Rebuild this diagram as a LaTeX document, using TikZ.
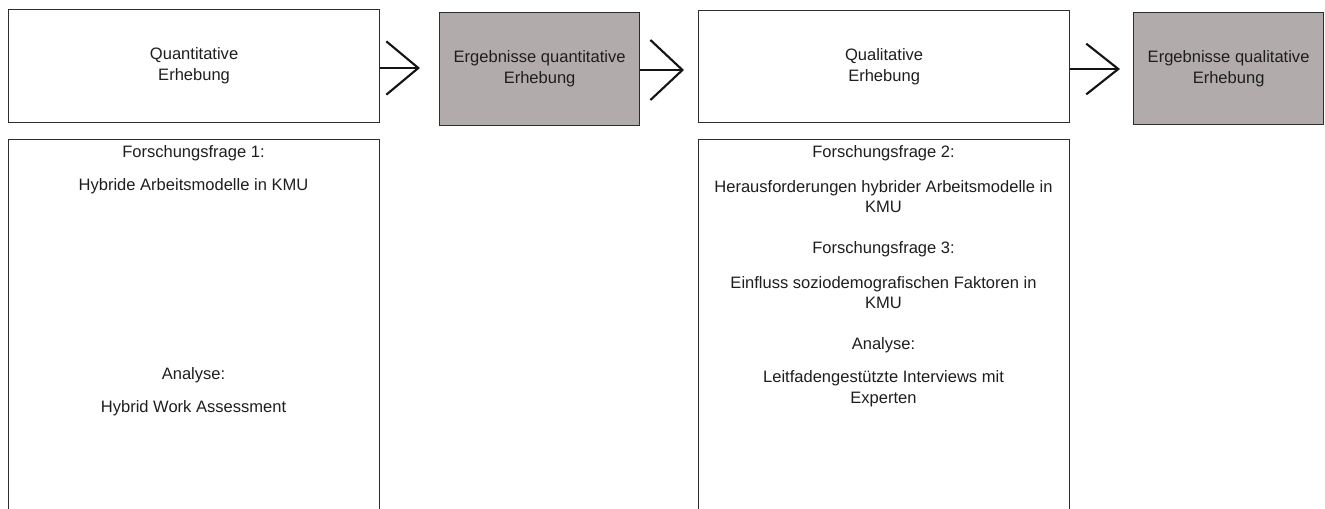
\documentclass[tikz,border=0pt]{standalone}
\usepackage{fontspec}
\setmainfont{Liberation Sans}
\usetikzlibrary{arrows.meta}
\definecolor{boxgray}{RGB}{177,172,171}
\definecolor{edgecol}{RGB}{45,45,45}
\definecolor{txtcol}{RGB}{30,30,30}
\begin{document}
\begin{tikzpicture}[x=0.75pt,y=-0.75pt,
  box/.style={draw=edgecol,line width=0.9pt,inner sep=0pt,anchor=north west,
    font=\fontsize{12.4}{15.6}\selectfont,align=center,text=txtcol},
  grey/.style={box,fill=boxgray},
  lbl/.style={font=\fontsize{12.4}{15.6}\selectfont,align=center,text=txtcol,inner sep=0pt},
  flow/.style={line width=1.6pt,draw=black!92}]
\useasboundingbox (0,0) rectangle (1325,508);
% top row
\node[box,minimum width=278.25pt,minimum height=84.75pt] (q) at (8,9) {Quantitative\\Erhebung};
\node[grey,minimum width=150pt,minimum height=84.75pt] (rq) at (439,12) {Ergebnisse quantitative\\Erhebung};
\node[box,minimum width=278.25pt,minimum height=84pt] (ql) at (698,10) {Qualitative\\Erhebung};
\node[grey,minimum width=142.5pt,minimum height=84pt] (rl) at (1133,12) {Ergebnisse qualitative\\Erhebung};
% bottom boxes
\node[box,minimum width=278.25pt,minimum height=285.75pt] (dq) at (8,139) {};
\node[box,minimum width=278.25pt,minimum height=285.75pt] (dl) at (698,139) {};
% arrow tips
\coordinate (t1) at (420,68);
\coordinate (t2) at (684,70);
\coordinate (t3) at (1120,69);
\draw[flow,-{Straight Barb[length=24pt,width=40pt,line width=1.6pt]}] (q.east |- t1) -- (t1);
\draw[flow,-{Straight Barb[length=24pt,width=45pt,line width=1.6pt]}] (rq.east |- t2) -- (t2);
\draw[flow,-{Straight Barb[length=24pt,width=38pt,line width=1.6pt]}] (ql.east |- t3) -- (t3);
% left texts
\node[lbl] (f1) at (193.5,153) {Forschungsfrage 1:};
\node[lbl] (f1t) at (193.5,186) {Hybride Arbeitsmodelle in KMU};
\node[lbl] (a1) at (193.5,375) {Analyse:};
\node[lbl] (a1t) at (193.5,408) {Hybrid Work Assessment};
% right texts
\node[lbl] (f2) at (883.5,153) {Forschungsfrage 2:};
\node[lbl] (f2t) at (883.5,196.5) {Herausforderungen hybrider Arbeitsmodelle in\\KMU};
\node[lbl] (f3) at (883.5,249) {Forschungsfrage 3:};
\node[lbl] (f3t) at (883.5,292.5) {Einfluss soziodemografischen Faktoren in\\KMU};
\node[lbl] (a2) at (883.5,345) {Analyse:};
\node[lbl] (a2t) at (883.5,388.5) {Leitfadengestützte Interviews mit\\Experten};
\end{tikzpicture}
\end{document}
